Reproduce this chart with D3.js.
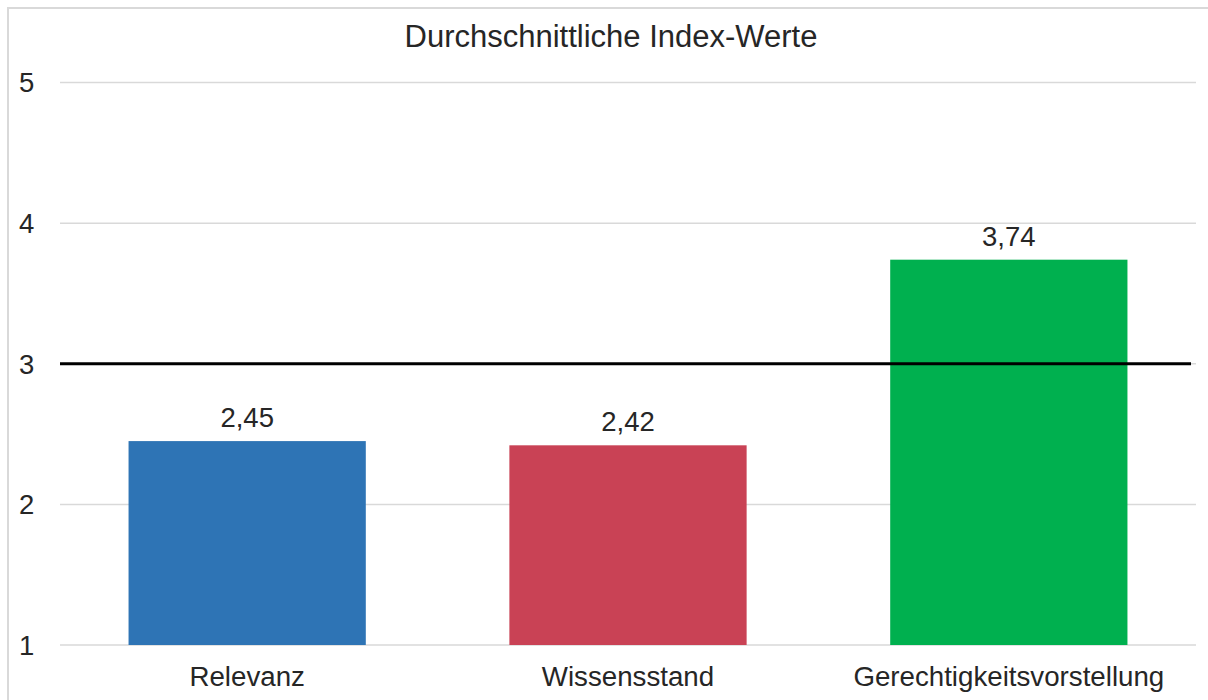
<!doctype html>
<html lang="de">
<head>
    <meta charset="utf-8">
    <title>Durchschnittliche Index-Werte</title>
    <script src="https://cdnjs.cloudflare.com/ajax/libs/d3/7.8.5/d3.min.js"></script>
    <style>
        html, body { margin: 0; padding: 0; background: #ffffff; }
        svg { display: block; font-family: 'Liberation Sans', Arial, sans-serif; }
    </style>
</head>
<body>
    <svg id="chart" width="1208" height="700"></svg>
    <script>
        // data
        const categories = ["Relevanz", "Wissensstand", "Gerechtigkeitsvorstellung"];
        const values = [2.45, 2.42, 3.74];
        const barColors = ["#2e74b5", "#c94255", "#00b04f"];
        const yTicks = [1, 2, 3, 4, 5];
        const referenceLine = 3;

        const svg = d3.select("#chart");

        // chart frame
        svg.append("rect")
            .attr("x", 8).attr("y", 8)
            .attr("width", 1300).attr("height", 800)
            .attr("fill", "none")
            .attr("stroke", "#d9d9d9")
            .attr("stroke-width", 2);

        const plotLeft = 60, plotRight = 1196, plotTop = 82.5, plotBottom = 645;

        const y = d3.scaleLinear().domain([1, 5]).range([plotBottom, plotTop]);
        const x = d3.scaleBand()
            .domain(categories)
            .range([plotLeft, plotRight])
            .paddingInner(0.377)
            .paddingOuter(0.18);

        // gridlines
        svg.append("g")
            .selectAll("line")
            .data(yTicks)
            .join("line")
            .attr("x1", plotLeft).attr("x2", plotRight)
            .attr("y1", d => y(d)).attr("y2", d => y(d))
            .attr("stroke", "#d9d9d9")
            .attr("stroke-width", 1.5);

        // y tick labels
        svg.append("g")
            .selectAll("text")
            .data(yTicks)
            .join("text")
            .attr("x", 19)
            .attr("y", d => y(d))
            .attr("dy", "0.36em")
            .attr("font-size", 27.5)
            .attr("fill", "#262626")
            .text(d => d);

        // bars
        svg.append("g")
            .selectAll("rect")
            .data(categories)
            .join("rect")
            .attr("x", d => x(d))
            .attr("width", x.bandwidth())
            .attr("y", (d, i) => y(values[i]))
            .attr("height", (d, i) => y(1) - y(values[i]))
            .attr("fill", (d, i) => barColors[i]);

        // value labels
        svg.append("g")
            .selectAll("text")
            .data(categories)
            .join("text")
            .attr("x", d => x(d) + x.bandwidth() / 2)
            .attr("y", (d, i) => y(values[i]) - 14)
            .attr("text-anchor", "middle")
            .attr("font-size", 27.5)
            .attr("fill", "#262626")
            .text((d, i) => d3.format(".2f")(values[i]).replace(".", ","));

        // category labels
        svg.append("g")
            .selectAll("text")
            .data(categories)
            .join("text")
            .attr("x", d => x(d) + x.bandwidth() / 2)
            .attr("y", plotBottom + 41)
            .attr("text-anchor", "middle")
            .attr("font-size", 27.7)
            .attr("fill", "#262626")
            .text(d => d);

        // reference line at 3
        svg.append("line")
            .attr("x1", plotLeft).attr("x2", 1191)
            .attr("y1", y(referenceLine)).attr("y2", y(referenceLine))
            .attr("stroke", "#000000")
            .attr("stroke-width", 3);

        // title
        svg.append("text")
            .attr("x", 611)
            .attr("y", 47)
            .attr("text-anchor", "middle")
            .attr("font-size", 31)
            .attr("fill", "#262626")
            .text("Durchschnittliche Index-Werte");
    </script>
</body>
</html>
